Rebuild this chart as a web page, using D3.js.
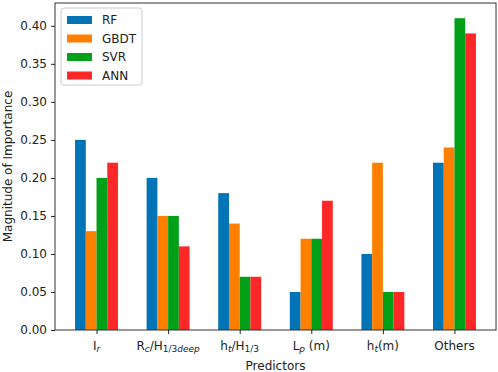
<!DOCTYPE html>
<html>
<head>
<meta charset="utf-8">
<script src="https://cdn.jsdelivr.net/npm/d3@7"></script>
<style>
  body { margin: 0; background: #fff; }
  text { font-family: "DejaVu Sans", sans-serif; fill: #222; }
</style>
</head>
<body>
<script>
// predictor labels, drawn as rich text below (key -> parts)
const predictors = ['Ir', 'Rc/H1/3deep', 'ht/H1/3', 'Lp (m)', 'ht(m)', 'Others'];
const seriesNames = ['RF', 'GBDT', 'SVR', 'ANN'];
const rf   = [0.25, 0.20, 0.18, 0.05, 0.10, 0.22];
const gbdt = [0.13, 0.15, 0.14, 0.12, 0.22, 0.24];
const svr  = [0.20, 0.15, 0.07, 0.12, 0.05, 0.41];
const ann  = [0.22, 0.11, 0.07, 0.17, 0.05, 0.39];
const yTicks = [0, 0.05, 0.10, 0.15, 0.20, 0.25, 0.30, 0.35, 0.40];

const colors = ['#0173B7', '#FF8000', '#00A018', '#FF2828'];
const values = [rf, gbdt, svr, ann];

const width = 498, height = 372;
const plotLeft = 55, plotRight = 496, plotTop = 3, plotBottom = 330;
const barW = 0.15;

const svg = d3.select('body').append('svg')
  .attr('width', width)
  .attr('height', height);

const x = d3.scaleLinear().domain([-0.58, 5.58]).range([plotLeft, plotRight]);
const y = d3.scaleLinear().domain([0, 0.43]).range([plotBottom, plotTop]);

// bars
values.forEach((vals, s) => {
  svg.append('g')
    .selectAll('rect')
    .data(vals)
    .enter()
    .append('rect')
    .attr('x', (d, i) => x(i + (s - 2) * barW))
    .attr('width', x(barW) - x(0))
    .attr('y', d => y(d))
    .attr('height', d => y(0) - y(d))
    .attr('fill', colors[s]);
});

// axes
const yAxis = d3.axisLeft(y).tickValues(yTicks).tickFormat(d3.format('.2f')).tickSize(4).tickPadding(4);
const xAxis = d3.axisBottom(x).tickValues(d3.range(predictors.length)).tickFormat('').tickSize(4);

const gy = svg.append('g').attr('transform', `translate(${plotLeft},0)`).call(yAxis);
gy.select('.domain').remove();
gy.selectAll('text').style('font-size', '12px').attr('fill', '#222');

const gx = svg.append('g').attr('transform', `translate(0,${plotBottom})`).call(xAxis);
gx.select('.domain').remove();

svg.selectAll('.tick line').attr('stroke', '#222');

// frame
svg.append('rect')
  .attr('x', plotLeft).attr('y', plotTop)
  .attr('width', plotRight - plotLeft).attr('height', plotBottom - plotTop)
  .attr('fill', 'none').attr('stroke', '#333').attr('stroke-width', 1);

// x tick labels with subscripts
const labelParts = [
  [['I', ''], ['r', 'subi']],
  [['R', ''], ['c', 'subi'], ['/H', ''], ['1/3', 'sub'], ['deep', 'subi']],
  [['h', ''], ['t', 'subi'], ['/H', ''], ['1/3', 'sub']],
  [['L', ''], ['p', 'subi'], [' (m)', '']],
  [['h', ''], ['t', 'subi'], ['(m)', '']],
  [['Others', '']]
];

labelParts.forEach((parts, i) => {
  const t = svg.append('text')
    .attr('x', x(i))
    .attr('y', 350)
    .attr('text-anchor', 'middle')
    .style('font-size', '12px');
  let prevSub = false;
  parts.forEach(([txt, kind]) => {
    const sub = kind.startsWith('sub');
    const sp = t.append('tspan').text(txt);
    if (sub) sp.style('font-size', '9px');
    if (kind === 'subi') sp.style('font-style', 'italic');
    if (sub && !prevSub) sp.attr('dy', 2);
    if (!sub && prevSub) sp.attr('dy', -2);
    prevSub = sub;
  });
});

svg.append('text')
  .attr('x', (plotLeft + plotRight) / 2)
  .attr('y', 370)
  .attr('text-anchor', 'middle')
  .style('font-size', '12px')
  .text('Predictors');

svg.append('text')
  .attr('transform', `translate(12,${(plotTop + plotBottom) / 2}) rotate(-90)`)
  .attr('text-anchor', 'middle')
  .style('font-size', '12px')
  .text('Magnitude of Importance');

// legend
const legend = svg.append('g').attr('transform', 'translate(61,8)');
legend.append('rect')
  .attr('width', 81).attr('height', 77).attr('rx', 3)
  .attr('fill', '#fff').attr('fill-opacity', 0.8)
  .attr('stroke', '#ccc');
legend.selectAll('.sw')
  .data(seriesNames)
  .enter()
  .append('rect')
  .attr('x', 6)
  .attr('y', (d, i) => 8 + i * 18.5)
  .attr('width', 25).attr('height', 8)
  .attr('fill', (d, i) => colors[i]);
legend.selectAll('.lt')
  .data(seriesNames)
  .enter()
  .append('text')
  .attr('x', 41)
  .attr('y', (d, i) => 16 + i * 18.5)
  .style('font-size', '12px')
  .text(d => d);
</script>
</body>
</html>
